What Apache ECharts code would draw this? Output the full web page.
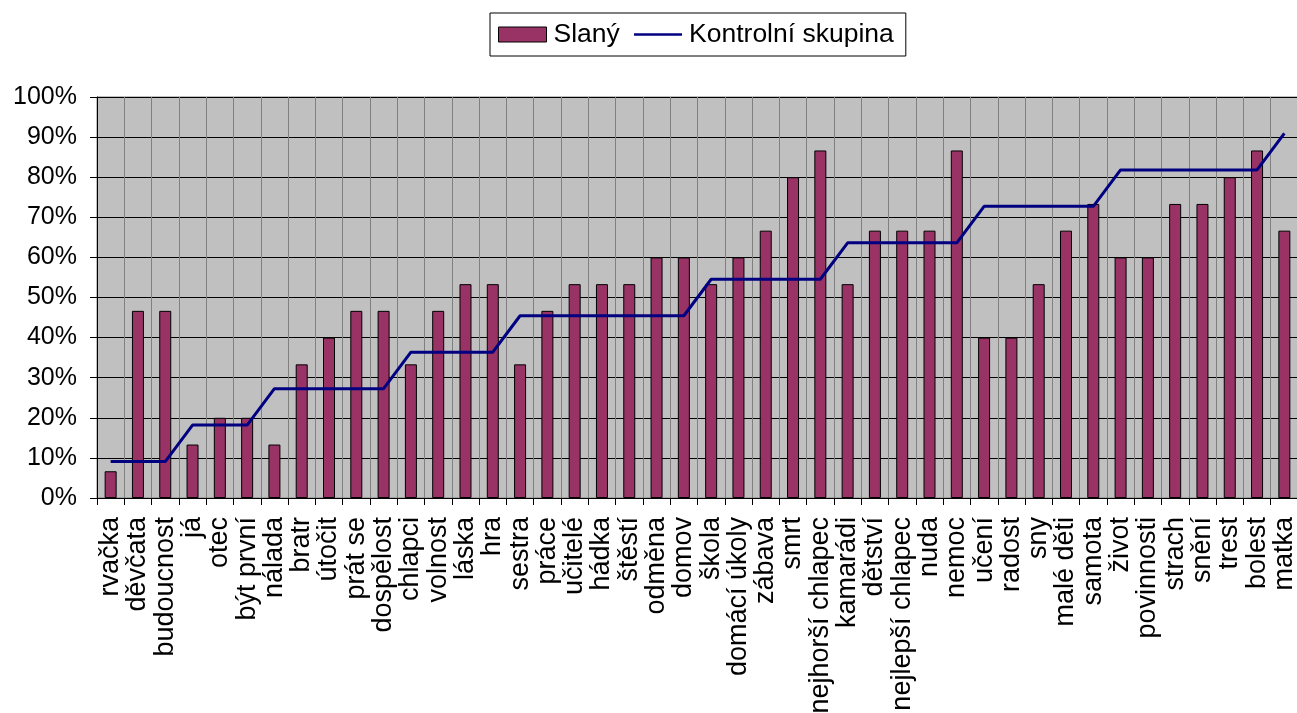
<!DOCTYPE html>
<html>
<head>
<meta charset="utf-8">
<script src="https://cdn.jsdelivr.net/npm/echarts@6/dist/echarts.min.js"></script>
<style>
  html, body { margin: 0; padding: 0; background: #ffffff; }
  #chart { width: 1297px; height: 713px; }
</style>
</head>
<body>
<div id="chart"></div>
<script>
// Word categories along the x axis
const categories = [
  'rvačka', 'děvčata', 'budoucnost', 'já', 'otec', 'být první', 'nálada', 'bratr',
  'útočit', 'prát se', 'dospělost', 'chlapci', 'volnost', 'láska', 'hra', 'sestra',
  'práce', 'učitelé', 'hádka', 'štěstí', 'odměna', 'domov', 'škola', 'domácí úkoly',
  'zábava', 'smrt', 'nejhorší chlapec', 'kamarádi', 'dětství', 'nejlepší chlapec', 'nuda',
  'nemoc', 'učení', 'radost', 'sny', 'malé děti', 'samota', 'život', 'povinnosti',
  'strach', 'snění', 'trest', 'bolest', 'matka'
];

// Share of respondents (0..1), group Slaný
const slany = [
  0.0667, 0.4667, 0.4667, 0.1333, 0.2, 0.2, 0.1333, 0.3333,
  0.4, 0.4667, 0.4667, 0.3333, 0.4667, 0.5333, 0.5333, 0.3333,
  0.4667, 0.5333, 0.5333, 0.5333, 0.6, 0.6, 0.5333, 0.6,
  0.6667, 0.8, 0.8667, 0.5333, 0.6667, 0.6667, 0.6667,
  0.8667, 0.4, 0.4, 0.5333, 0.6667, 0.7333, 0.6, 0.6,
  0.7333, 0.7333, 0.8, 0.8667, 0.6667
];

// Share of respondents (0..1), control group
const kontrolni = [
  0.0909, 0.0909, 0.0909, 0.1818, 0.1818, 0.1818, 0.2727, 0.2727,
  0.2727, 0.2727, 0.2727, 0.3636, 0.3636, 0.3636, 0.3636, 0.4545,
  0.4545, 0.4545, 0.4545, 0.4545, 0.4545, 0.4545, 0.5455, 0.5455,
  0.5455, 0.5455, 0.5455, 0.6364, 0.6364, 0.6364, 0.6364,
  0.6364, 0.7273, 0.7273, 0.7273, 0.7273, 0.7273, 0.8182, 0.8182,
  0.8182, 0.8182, 0.8182, 0.8182, 0.9091
];

const FONT = '"Liberation Sans", Arial, sans-serif';

const chart = echarts.init(document.getElementById('chart'), null, { renderer: 'canvas' });

chart.setOption({
  animation: false,
  backgroundColor: '#ffffff',
  textStyle: { fontFamily: FONT },
  legend: {
    top: 13,
    left: 490,
    padding: [8, 12, 8, 8],
    itemGap: 13,
    itemWidth: 48,
    itemHeight: 15,
    borderColor: '#000000',
    borderWidth: 1,
    backgroundColor: '#ffffff',
    textStyle: { fontFamily: FONT, fontSize: 26.5, color: '#000000', padding: [0, 0, 0, 2] },
    data: [
      { name: 'Slaný', icon: 'rect', itemStyle: { color: '#993366', borderColor: '#000000', borderWidth: 1 } },
      { name: 'Kontrolní skupina', itemStyle: { opacity: 0 }, lineStyle: { color: '#000080', width: 2.5 } }
    ]
  },
  grid: {
    left: 97,
    top: 97,
    width: 1201,
    height: 401,
    backgroundColor: '#c0c0c0',
    borderColor: '#808080',
    borderWidth: 1,
    show: true,
    containLabel: false,
    outerBoundsMode: 'none'
  },
  xAxis: {
    type: 'category',
    data: categories,
    boundaryGap: true,
    axisLine: { show: true, lineStyle: { color: '#000000', width: 1 } },
    axisTick: { show: true, interval: 0, length: 7, lineStyle: { color: '#000000' } },
    splitLine: { show: true, interval: 0, lineStyle: { color: '#808080', width: 1 } },
    axisLabel: {
      interval: 0,
      rotate: 90,
      margin: 19,
      fontFamily: FONT,
      fontSize: 27,
      color: '#000000',
      lineHeight: 27
    }
  },
  yAxis: {
    type: 'value',
    min: 0,
    max: 1,
    interval: 0.1,
    axisLine: { show: true, lineStyle: { color: '#000000', width: 1 } },
    axisTick: { show: true, length: 7, lineStyle: { color: '#000000' } },
    splitLine: { show: true, lineStyle: { color: '#000000', width: 1 } },
    axisLabel: {
      margin: 20,
      fontFamily: FONT,
      fontSize: 25,
      color: '#000000',
      formatter: v => Math.round(v * 100) + '%'
    }
  },
  series: [
    {
      name: 'Slaný',
      type: 'bar',
      data: slany,
      barWidth: 12,
      itemStyle: { color: '#993366', borderColor: '#000000', borderWidth: 1 },
      z: 2
    },
    {
      name: 'Kontrolní skupina',
      type: 'line',
      data: kontrolni,
      symbol: 'none',
      showSymbol: false,
      lineStyle: { color: '#000080', width: 3 },
      itemStyle: { color: '#000080' },
      z: 3
    }
  ]
});
</script>
</body>
</html>
